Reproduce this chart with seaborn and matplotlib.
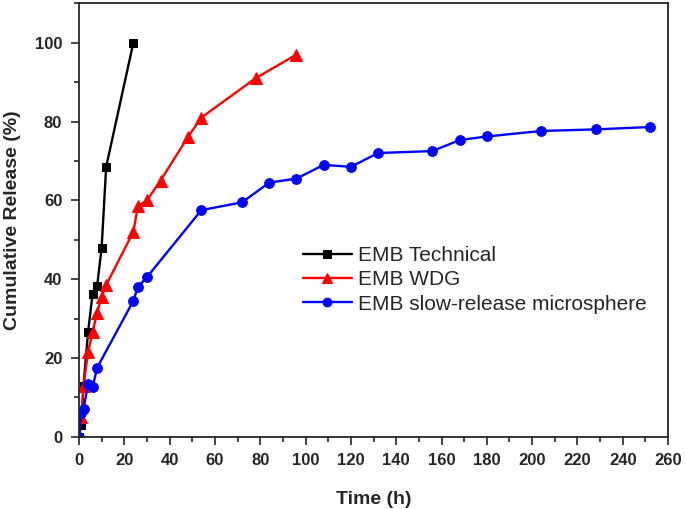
import pandas as pd
import seaborn as sns
import matplotlib.pyplot as plt
from matplotlib.ticker import MultipleLocator

# Dados
tempo_tec = [0, 1, 2, 4, 6, 8, 10, 12, 24]
liber_tec = [0, 3, 13, 26.5, 36.3, 38.2, 48, 68.5, 100]

tempo_wdg = [0, 1, 2, 4, 6, 8, 10, 12, 24, 26, 30, 36, 48, 54, 78, 96]
liber_wdg = [0, 5, 13, 21.5, 26.5, 31.5, 35.5, 38.5, 52, 58.5, 60, 65, 76, 81, 91, 97]

tempo_mic = [0, 1, 2, 4, 6, 8, 24, 26, 30, 54, 72, 84, 96, 108, 120, 132, 156, 168, 180, 204, 228, 252]
liber_mic = [0, 6, 7, 13.5, 12.5, 17.5, 34.5, 38, 40.5, 57.5, 59.5, 64.5, 65.5, 69, 68.5, 72,
             72.5, 75.3, 76.2, 77.6, 78, 78.6]

rotulos = ['EMB Technical', 'EMB WDG', 'EMB slow-release microsphere']

sns.set_style('ticks')
plt.rcParams['font.family'] = ['Liberation Sans', 'DejaVu Sans']

fig = plt.figure(figsize=(6.85, 5.09), dpi=100)
ax = fig.add_axes([0.1153, 0.142, 0.86, 0.8515])

series = [
    (tempo_tec, liber_tec, 'black', 's', 6),
    (tempo_wdg, liber_wdg, 'red', '^', 8),
    (tempo_mic, liber_mic, 'blue', 'o', 7),
]
for (t, v, cor, marc, tam), rot in zip(series, rotulos):
    sns.lineplot(x=t, y=v, ax=ax, color=cor, marker=marc, markersize=tam,
                 markeredgecolor=cor, linewidth=1.7, label=rot, sort=False, estimator=None)

ax.set_xlim(0, 260)
ax.set_ylim(0, 110)
ax.xaxis.set_major_locator(MultipleLocator(20))
ax.xaxis.set_minor_locator(MultipleLocator(10))
ax.yaxis.set_major_locator(MultipleLocator(20))
ax.yaxis.set_minor_locator(MultipleLocator(10))
ax.tick_params(which='major', direction='out', length=6, width=1.2, labelsize=12, pad=6)
ax.tick_params(which='minor', direction='out', length=3.5, width=1.2)
for lbl in ax.get_xticklabels() + ax.get_yticklabels():
    lbl.set_fontweight('bold')
for s in ax.spines.values():
    s.set_linewidth(1.3)
    s.set_visible(True)

ax.set_xlabel('Time (h)', fontsize=14, fontweight='bold', labelpad=16)
ax.set_ylabel('Cumulative Release (%)', fontsize=14, fontweight='bold', labelpad=10)

ax.legend(loc='center left', bbox_to_anchor=(0.38, 0.362), frameon=False, fontsize=15,
          handlelength=2.35, handletextpad=0.3, labelspacing=0.25, borderpad=0,
          borderaxespad=0, markerscale=0.9)

fig.savefig('out.png', dpi=100)
